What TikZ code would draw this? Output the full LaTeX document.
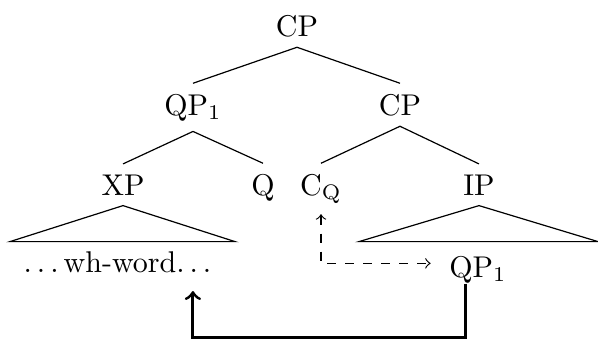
\documentclass[tikz,border=0pt]{standalone}
\usetikzlibrary{arrows.meta}
% spaced dots, one kern after each
\newcommand{\spdots}{.\kern1.67pt.\kern1.67pt.\kern1.67pt}
\begin{document}
\begin{tikzpicture}[
    x=0.3333pt, y=-0.3333pt,
    >=to,
    cat/.style={anchor=base},
    branch/.style={draw=black, line width=0.4pt},
    roof/.style={draw=black, line width=0.4pt},
    agree/.style={<->, dashed, line width=0.4pt},
    move/.style={->, line width=1pt}
]
  \useasboundingbox (0,0) rectangle (598,339);

  \node[cat] (cp) at (297,36) {CP};
  \node[cat] (qp) at (193,115) {QP$_1$};
  \node[cat] (cbar) at (400,115) {CP};
  \node[cat] (xp) at (123,195) {XP};
  \node[cat] (q) at (263,195) {Q};
  \node[cat] (cq) at (321,195) {C$_{\mathrm{Q}}$};
  \node[cat] (ip) at (479,195) {IP};
  \node[cat] (wh) at (120,272) {\spdots wh-word\spdots};
  \node[cat] (qpt) at (478,277) {QP$_1$};

  \draw[branch] (cp.south) -- (qp.north);
  \draw[branch] (cp.south) -- (cbar.north);
  \draw[branch] (qp.south) -- (xp.north);
  \draw[branch] (qp.south) -- (q.north);
  \draw[branch] (cbar.south) -- (cq.north);
  \draw[branch] (cbar.south) -- (ip.north);

  % roofs
  \draw[roof] (xp.south) -- ++(-113,36) -- ++(225,0) -- cycle;
  \draw[roof] (ip.south) -- ++(-120,36) -- ++(239,0) -- cycle;

  \draw[agree] (cq.south) |- ([xshift=-2.7pt,yshift=2pt]qpt.west);
  \draw[move] ([xshift=-4.3pt,yshift=3.3pt]qpt.south) -- ++(0,54) -| ([xshift=24.3pt,yshift=-2.7pt]wh.south);
\end{tikzpicture}
\end{document}
